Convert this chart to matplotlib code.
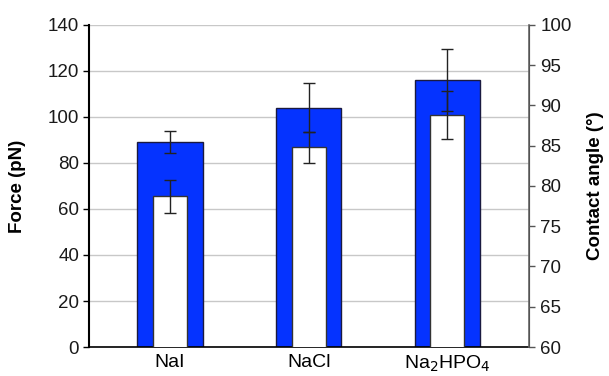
import numpy as np
import matplotlib
matplotlib.use("Agg")
import matplotlib.pyplot as plt

plt.rcParams['font.family'] = ['Liberation Sans', 'DejaVu Sans']

salts = ["NaI", "NaCl", "Na$_2$HPO$_4$"]
force = [89.0, 104.0, 116.2]
force_err = [4.8, 10.7, 13.5]
angle = [78.7, 84.8, 88.8]
angle_err = [2.0, 1.9, 3.0]

blue = '#0533ff'
x = np.arange(len(salts))

fig = plt.figure(figsize=(6.09, 3.76), dpi=100)
ax = fig.add_axes([0.146, 0.077, 0.723, 0.857])
ax2 = ax.twinx()

ax.set_axisbelow(True)
ax.yaxis.grid(True, color='#c8c8c8', lw=1)
ax.bar(x, force, width=0.47, color=blue, edgecolor='#1a1a40', lw=1, zorder=2)
ax.errorbar(x, force, yerr=force_err, fmt='none', ecolor='#222222',
            elinewidth=1, capsize=4, capthick=1, zorder=3)

ax2.bar(x, angle, width=0.245, color='white', edgecolor='#333333', lw=1, zorder=2)
ax2.errorbar(x, angle, yerr=angle_err, fmt='none', ecolor='#222222',
             elinewidth=1, capsize=4, capthick=1, zorder=3)

ax.set_xlim(-0.585, 2.59)
ax.set_ylim(0, 140)
ax.set_yticks(np.arange(0, 141, 20))
ax2.set_ylim(60, 100)
ax2.set_yticks(np.arange(60, 101, 5))

ax.set_xticks(x)
ax.set_xticklabels(salts, fontsize=14)
ax.tick_params(axis='x', length=0, pad=5)
ax.tick_params(axis='y', labelsize=13.5, length=4, width=1, direction='out', pad=3,
               labelcolor='#1a1a1a')
ax2.tick_params(axis='y', labelsize=13.5, length=4, width=1, direction='out',
                colors='#555555', labelcolor='#1a1a1a', pad=4)

ax.set_ylabel("Force (pN)", fontsize=13.5, fontweight='bold', labelpad=16)
ax2.set_ylabel("Contact angle (°)", fontsize=13.5, fontweight='bold', labelpad=11)

for a in (ax, ax2):
    a.spines['top'].set_visible(False)
ax.spines['left'].set_linewidth(1.5)
ax.spines['bottom'].set_linewidth(1.2)
ax2.spines['left'].set_visible(False)
ax2.spines['bottom'].set_visible(False)
ax2.spines['right'].set_color('#666666')
ax2.spines['right'].set_linewidth(1.2)

plt.savefig('out.png', dpi=100)
